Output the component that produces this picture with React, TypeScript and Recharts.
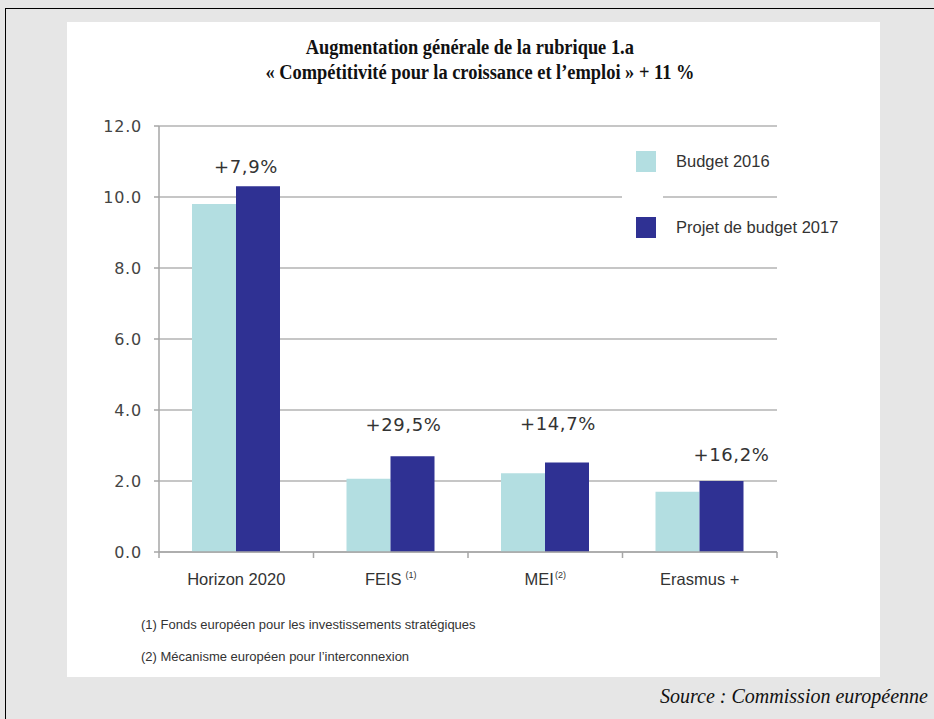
import React from "react";
import {
  BarChart,
  Bar,
  XAxis,
  YAxis,
  CartesianGrid,
  Legend,
  LabelList,
} from "recharts";

const categories = ["Horizon 2020", "FEIS", "MEI", "Erasmus +"];
const footnoteMarks = ["", "(1)", "(2)", ""];
const budget2016 = [9.8, 2.06, 2.22, 1.7];
const budget2017 = [10.3, 2.7, 2.52, 2.0];
const changeLabels = ["+7,9%", "+29,5%", "+14,7%", "+16,2%"];
// height (in axis units) at which each change label sits
const changeLabelLevels = [10.85, 3.6, 3.63, 2.76];
const yTicks = [0, 2, 4, 6, 8, 10, 12];

const seriesNames = { b2016: "Budget 2016", b2017: "Projet de budget 2017" };
const LIGHT = "#b3dee1";
const DARK = "#2f3193";

// horizontal nudge of each label from the left edge of the 2017 bar
const labelDx = [10, 13, 13, 32];

const data = categories.map((name, i) => ({
  name,
  mark: footnoteMarks[i],
  b2016: budget2016[i],
  b2017: budget2017[i],
}));

const CategoryTick = (props: any) => {
  const { x, y, payload, index } = props;
  const half = payload && payload.offset ? payload.offset : 77;
  const mark = footnoteMarks[index];
  return (
    <g>
      {index === 0 && (
        <line x1={x - half} x2={x - half} y1={y} y2={y + 6} stroke="#a6a6a6" strokeWidth={1.5} />
      )}
      <line x1={x + half} x2={x + half} y1={y} y2={y + 6} stroke="#a6a6a6" strokeWidth={1.5} />
      <text
        x={x}
        y={y + 33}
        textAnchor="middle"
        fill="#333"
        fontSize={16.5}
        fontFamily="'Liberation Sans', Arial, sans-serif"
      >
        {payload.value}
        {mark && (
          <tspan fontSize={9} dy={-7} dx={index === 1 ? 4 : 1}>
            {mark}
          </tspan>
        )}
      </text>
    </g>
  );
};

const renderChange = (props: any) => {
  const { x, y, height, index } = props;
  const ppu = Number(height) / budget2017[index];
  const cy = Number(y) + Number(height) - changeLabelLevels[index] * ppu;
  return (
    <text
      x={Number(x) + labelDx[index]}
      y={cy}
      textAnchor="middle"
      dominantBaseline="central"
      fill="#333"
      fontSize={18}
      letterSpacing={0.6}
      fontFamily="'DejaVu Sans', Verdana, sans-serif"
    >
      {changeLabels[index]}
    </text>
  );
};

// zero-height box so the legend does not take room from the plot
const LegendBox = () => (
  <div style={{ position: "relative", width: 240, height: 0 }}>
    <div
      style={{
        position: "absolute",
        left: 0,
        top: -10,
        width: 41,
        height: 110,
        background: "#fff",
      }}
    />
    {[
      { label: seriesNames.b2016, color: LIGHT, top: 0 },
      { label: seriesNames.b2017, color: DARK, top: 66 },
    ].map((it) => (
      <div key={it.label} style={{ position: "absolute", left: 14, top: it.top, display: "flex", alignItems: "center" }}>
        <div style={{ width: 20, height: 21, background: it.color }} />
        <span
          style={{
            marginLeft: 20,
            fontSize: 16.5,
            color: "#333",
            fontFamily: "'Liberation Sans', Arial, sans-serif",
            whiteSpace: "nowrap",
          }}
        >
          {it.label}
        </span>
      </div>
    ))}
  </div>
);

export default function App() {
  return (
    <div
      style={{
        position: "absolute",
        left: 0,
        top: 0,
        width: 934,
        height: 719,
        background: "#e6e6e6",
        overflow: "hidden",
      }}
    >
      <div
        style={{
          position: "absolute",
          left: 5,
          top: 8,
          width: 940,
          height: 720,
          borderTop: "1px solid #000",
          borderLeft: "1px solid #000",
        }}
      />
      <div
        style={{
          position: "absolute",
          left: 67,
          top: 22,
          width: 813,
          height: 655,
          background: "#fff",
        }}
      />
      <div
        style={{
          position: "absolute",
          left: 67,
          top: 35,
          width: 813,
          textAlign: "center",
          fontFamily: "'Liberation Serif', 'Times New Roman', serif",
          fontWeight: "bold",
          fontSize: 20,
          lineHeight: "25px",
          color: "#111",
          transform: "scaleX(0.92)",
        }}
      >
        <div style={{ paddingRight: 8 }}>Augmentation générale de la rubrique 1.a</div>
        <div style={{ paddingLeft: 14 }}>« Compétitivité pour la croissance et l’emploi » + 11 %</div>
      </div>

      <div style={{ position: "absolute", left: 0, top: 0 }}>
        <BarChart
          width={934}
          height={719}
          data={data}
          margin={{ top: 126, right: 157, bottom: 127, left: 99 }}
          barGap={0}
          barSize={44}
        >
          <CartesianGrid vertical={false} stroke="#c6c6c6" strokeWidth={2} />
          <XAxis
            dataKey="name"
            height={40}
            tickLine={false}
            tickSize={0}
            tickMargin={0}
            axisLine={{ stroke: "#a6a6a6", strokeWidth: 1.5 }}
            tick={<CategoryTick />}
            interval={0}
          />
          <YAxis
            width={60}
            domain={[0, 12]}
            ticks={yTicks}
            interval={0}
            tickFormatter={(v: number) => v.toFixed(1)}
            tickSize={5}
            tickMargin={12}
            tickLine={{ stroke: "#a6a6a6", strokeWidth: 1.5 }}
            axisLine={{ stroke: "#a6a6a6", strokeWidth: 1.5 }}
            tick={{
              fill: "#444",
              fontSize: 16,
              fontFamily: "'DejaVu Sans', Verdana, sans-serif",
              letterSpacing: 0.8,
            }}
          />
          <Legend
            content={<LegendBox />}
            wrapperStyle={{ position: "absolute", left: 622, top: 151, width: 240, height: 0 }}
          />
          <Bar dataKey="b2016" name={seriesNames.b2016} fill={LIGHT} isAnimationActive={false} />
          <Bar dataKey="b2017" name={seriesNames.b2017} fill={DARK} isAnimationActive={false}>
            <LabelList dataKey="b2017" content={renderChange} />
          </Bar>
        </BarChart>
      </div>

      <div
        style={{
          position: "absolute",
          left: 141,
          top: 617,
          fontFamily: "'Liberation Sans', Arial, sans-serif",
          fontSize: 13,
          color: "#333",
          lineHeight: "16px",
        }}
      >
        <div>(1) Fonds européen pour les investissements stratégiques</div>
        <div style={{ marginTop: 16 }}>(2) Mécanisme européen pour l’interconnexion</div>
      </div>

      <div
        style={{
          position: "absolute",
          right: 6,
          top: 685,
          fontFamily: "'Liberation Serif', 'Times New Roman', serif",
          fontStyle: "italic",
          fontSize: 20,
          color: "#111",
          whiteSpace: "nowrap",
        }}
      >
        Source : Commission européenne
      </div>
    </div>
  );
}
